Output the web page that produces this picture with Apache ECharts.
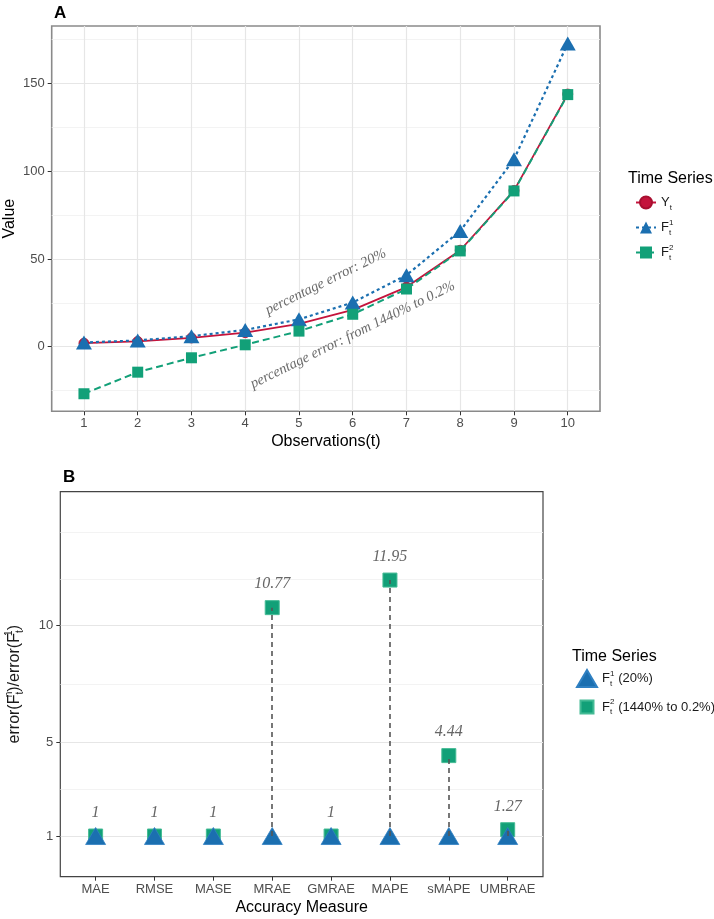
<!DOCTYPE html>
<html>
<head>
<meta charset="utf-8">
<script src="https://cdn.jsdelivr.net/npm/echarts@6/dist/echarts.min.js"></script>
<style>
html, body { margin: 0; padding: 0; background: #fff; }
#main { width: 714px; height: 919px; }
</style>
</head>
<body>
<div id="main"></div>
<script>
// panel A: series over observations
var observations = [1, 2, 3, 4, 5, 6, 7, 8, 9, 10];
var actual = [2, 3, 5, 8, 13, 21, 34, 55, 89, 144];
var forecast1 = [2.4, 3.6, 6, 9.6, 15.6, 25.2, 40.8, 66, 106.8, 172.8];
var forecast2 = [-26.8, -14.5, -6.3, 1.1, 8.9, 18.5, 32.9, 54.6, 88.8, 143.7];
var valueTicks = [0, 50, 100, 150];
var valueMinor = [-25, 25, 75, 125, 175];

// panel B: error ratios per accuracy measure
var measures = ['MAE', 'RMSE', 'MASE', 'MRAE', 'GMRAE', 'MAPE', 'sMAPE', 'UMBRAE'];
var ratio1 = [1, 1, 1, 1, 1, 1, 1, 1];
var ratio2 = [1, 1, 1, 10.77, 1, 11.95, 4.44, 1.27];
var ratioTicks = [1, 5, 10];
var ratioMinor = [3, 7.5, 12, 14];

var SANS = '"Liberation Sans", Arial, sans-serif';
var SERIF = '"Liberation Serif", "DejaVu Serif", serif';
var RED = '#C4143C', BLUE = '#1B6FB0', GREEN = '#12A078';

var chart = echarts.init(document.getElementById('main'));

function pairs(xs, ys) {
  return xs.map(function (x, i) { return [x, ys[i]]; });
}
var positions = measures.map(function (m, i) { return i + 1; });

function richText(size, small) {
  return {
    m: { fontSize: size, lineHeight: size + 5, fontFamily: SANS, color: '#1a1a1a' },
    sp: { fontSize: small, lineHeight: small + 1, fontFamily: SANS, color: '#1a1a1a', verticalAlign: 'top', width: 0 },
    sb: { fontSize: small, lineHeight: small + 1, fontFamily: SANS, color: '#1a1a1a', verticalAlign: 'bottom' },
    r: { fontSize: size, lineHeight: size + 5, fontFamily: SANS, color: '#1a1a1a', padding: [0, 0, 0, 6] }
  };
}

var legendNamesA = { 'Y': '{m|Y}{sb|t}', 'F1': '{m|F}{sp|1}{sb|t}', 'F2': '{m|F}{sp|2}{sb|t}' };
var legendNamesB = {
  'F1 (20%)': '{m|F}{sp|1}{sb|t}{r|(20%)}',
  'F2 (1440% to 0.2%)': '{m|F}{sp|2}{sb|t}{r|(1440% to 0.2%)}'
};

var segments = [];
measures.forEach(function (m, i) {
  if (ratio2[i] !== ratio1[i]) {
    segments.push([{ coord: [positions[i], ratio1[i]] }, { coord: [positions[i], ratio2[i]] }]);
  }
});

var tickLabel = { color: '#4d4d4d', fontSize: 13, fontFamily: SANS };
var axisTitle = { color: '#000', fontSize: 16, fontFamily: SANS };
var majorGrid = { show: true, lineStyle: { color: '#e6e6e6', width: 1.2 } };
var minorGrid = { show: true, lineStyle: { color: '#f0f0f0', width: 0.8 } };
var tick = { show: true, length: 4, lineStyle: { color: '#333', width: 1 } };
var noLine = { show: false, onZero: false };

var option = {
  backgroundColor: '#fff',
  animation: false,
  title: [
    { text: 'A', left: 49, top: 0, textStyle: { fontSize: 17, fontWeight: 'bold', fontFamily: SANS, color: '#000' } },
    { text: 'B', left: 58, top: 464, textStyle: { fontSize: 17, fontWeight: 'bold', fontFamily: SANS, color: '#000' } },
    { text: 'Time Series', left: 623, top: 166, textStyle: { fontSize: 16, fontWeight: 'normal', fontFamily: SANS, color: '#000' } },
    { text: 'Time Series', left: 567, top: 644, textStyle: { fontSize: 16, fontWeight: 'normal', fontFamily: SANS, color: '#000' } }
  ],
  legend: [
    {
      data: ['Y', 'F1', 'F2'],
      orient: 'vertical', left: 630, top: 190.5,
      itemWidth: 20, itemHeight: 15, itemGap: 7,
      formatter: function (n) { return legendNamesA[n]; },
      textStyle: { rich: richText(13, 8) }
    },
    {
      data: [
        { name: 'F1 (20%)', icon: 'path://M10,0L20,17L0,17Z' },
        { name: 'F2 (1440% to 0.2%)', icon: 'path://M0,0M3.5,2.5L16.5,2.5L16.5,15.5L3.5,15.5ZM20,18' }
      ],
      orient: 'vertical', left: 571, top: 664,
      itemWidth: 20, itemHeight: 18, itemGap: 9,
      formatter: function (n) { return legendNamesB[n]; },
      textStyle: { rich: richText(13, 8) }
    }
  ],
  grid: [
    { left: 51.7, top: 26, width: 548.3, height: 385.3, show: true, borderColor: '#8a8a8a', borderWidth: 1.6, backgroundColor: '#fff', outerBoundsMode: 'none' },
    { left: 60.3, top: 491.7, width: 482.7, height: 385, show: true, borderColor: '#444', borderWidth: 1.2, backgroundColor: '#fff', outerBoundsMode: 'none' }
  ],
  xAxis: [
    {
      gridIndex: 0, type: 'value', min: 0.4, max: 10.6,
      name: 'Observations(t)', nameLocation: 'middle', nameGap: 22, nameTextStyle: axisTitle,
      axisLine: noLine,
      axisTick: Object.assign({ customValues: observations }, tick),
      axisLabel: Object.assign({ customValues: observations, margin: 6 }, tickLabel),
      splitLine: majorGrid
    },
    {
      gridIndex: 1, type: 'value', min: 0.4, max: 8.6,
      name: 'Accuracy Measure', nameLocation: 'middle', nameGap: 23, nameTextStyle: axisTitle,
      axisLine: noLine,
      axisTick: Object.assign({ customValues: positions }, tick),
      axisLabel: Object.assign({
        customValues: positions, margin: 6,
        formatter: function (v) { return measures[Math.round(v) - 1]; }
      }, tickLabel),
      splitLine: { show: false }
    }
  ],
  yAxis: [
    {
      gridIndex: 0, type: 'value', min: -36.8, max: 182.8,
      name: 'Value', nameLocation: 'middle', nameGap: 34, nameMoveOverlap: false, nameTextStyle: axisTitle,
      axisLine: noLine,
      axisTick: Object.assign({ customValues: valueTicks }, tick),
      axisLabel: Object.assign({ customValues: valueTicks, margin: 7 }, tickLabel),
      splitLine: majorGrid
    },
    {
      gridIndex: 0, type: 'value', min: -36.8, max: 182.8, position: 'left',
      axisLine: noLine, axisLabel: { show: false },
      axisTick: { show: false, customValues: valueMinor },
      splitLine: minorGrid
    },
    {
      gridIndex: 1, type: 'value', min: -0.74, max: 15.73,
      name: '{m|error(F}{sp|n}{sb|t}{m|)/error(F}{sp|1}{sb|t}{m|)}', nameLocation: 'middle', nameGap: 35, nameMoveOverlap: false,
      nameTextStyle: { rich: richText(16, 10) },
      axisLine: noLine,
      axisTick: Object.assign({ customValues: ratioTicks }, tick),
      axisLabel: Object.assign({ customValues: ratioTicks, margin: 7 }, tickLabel),
      splitLine: majorGrid
    },
    {
      gridIndex: 1, type: 'value', min: -0.74, max: 15.73, position: 'left',
      axisLine: noLine, axisLabel: { show: false },
      axisTick: { show: false, customValues: ratioMinor },
      splitLine: minorGrid
    }
  ],
  series: [
    {
      name: 'Y', type: 'line', xAxisIndex: 0, yAxisIndex: 0,
      data: pairs(observations, actual),
      symbol: 'circle', symbolSize: 10,
      lineStyle: { color: RED, width: 1.8, type: 'solid' },
      itemStyle: { color: RED, borderColor: '#a80f30', borderWidth: 0.8 },
      z: 3
    },
    {
      name: 'F1', type: 'line', xAxisIndex: 0, yAxisIndex: 0,
      data: pairs(observations, forecast1),
      symbol: 'triangle', symbolSize: [16, 14],
      lineStyle: { color: BLUE, width: 2.2, type: [3, 3] },
      itemStyle: { color: BLUE },
      z: 4
    },
    {
      name: 'F2', type: 'line', xAxisIndex: 0, yAxisIndex: 0,
      data: pairs(observations, forecast2),
      symbol: 'rect', symbolSize: 11,
      lineStyle: { color: GREEN, width: 2, type: [7, 4] },
      itemStyle: { color: GREEN },
      z: 5
    },
    {
      name: 'links', type: 'scatter', xAxisIndex: 1, yAxisIndex: 2,
      data: [], silent: true, z: 2,
      markLine: {
        silent: true, symbol: ['none', 'none'], label: { show: false },
        lineStyle: { color: '#555', width: 1.6, type: [5, 4] },
        data: segments
      }
    },
    {
      name: 'F2 (1440% to 0.2%)', type: 'scatter', xAxisIndex: 1, yAxisIndex: 2,
      data: pairs(positions, ratio2),
      symbol: 'rect', symbolSize: 14,
      itemStyle: { color: GREEN, borderColor: '#45bb95', borderWidth: 1, opacity: 1 },
      label: {
        show: true, position: 'inside', offset: [0, -23.4],
        formatter: function (p) { return String(p.value[1]); },
        fontFamily: SERIF, fontStyle: 'italic', fontSize: 16, color: '#666'
      },
      z: 3
    },
    {
      name: 'F1 (20%)', type: 'scatter', xAxisIndex: 1, yAxisIndex: 2,
      data: pairs(positions, ratio1),
      symbol: 'triangle', symbolSize: [20, 17],
      itemStyle: { color: BLUE, borderColor: '#2f80c2', borderWidth: 0.8, opacity: 1 },
      z: 4
    }
  ]
};

chart.setOption(option);

// rotated annotations placed in data coordinates of panel A
var notes = [
  { text: 'percentage error: 20%', at: [5.5, 37] },
  { text: 'percentage error: from 1440% to 0.2%', at: [6.0, 6.7] }
];
chart.setOption({
  graphic: notes.map(function (n) {
    var p = chart.convertToPixel({ gridIndex: 0 }, n.at);
    return {
      type: 'text', x: p[0], y: p[1], rotation: 26.2 * Math.PI / 180, z: 10,
      style: {
        text: n.text, font: 'italic 14.5px ' + SERIF, fill: '#6b6b6b',
        align: 'center', verticalAlign: 'middle'
      }
    };
  })
});
</script>
</body>
</html>
